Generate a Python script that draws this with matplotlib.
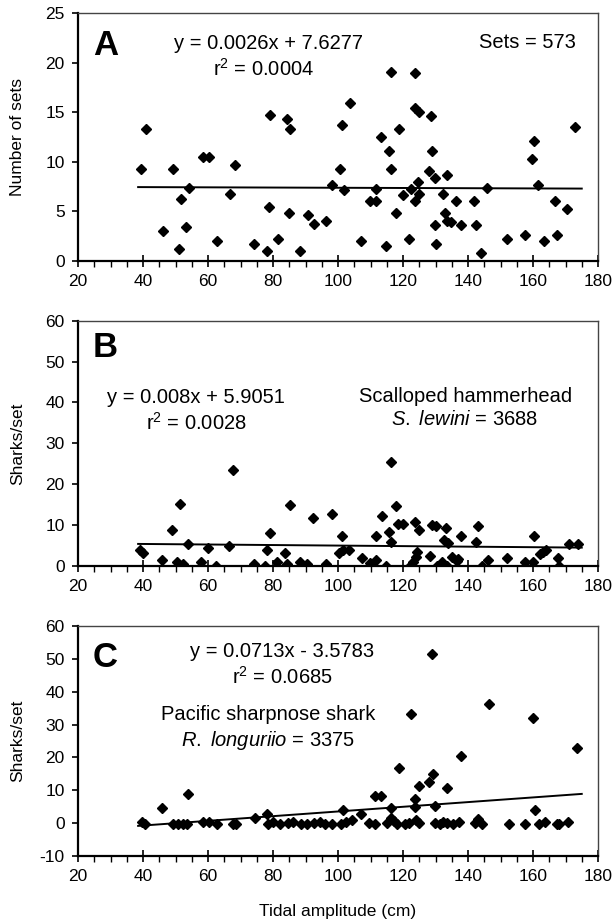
import matplotlib
matplotlib.use("Agg")
import matplotlib.pyplot as plt
import numpy as np
from matplotlib.ticker import MultipleLocator

plt.rcParams['font.family'] = ['Liberation Sans', 'DejaVu Sans']
plt.rcParams['axes.unicode_minus'] = False
plt.rcParams['mathtext.fontset'] = 'custom'
plt.rcParams['mathtext.rm'] = 'Liberation Sans'
plt.rcParams['mathtext.it'] = 'Liberation Sans:italic'
plt.rcParams['mathtext.bf'] = 'Liberation Sans:bold'

# ---------------- Panel A: Number of sets ----------------
xA = [39.4, 40.8, 46.3, 49.3, 51.1, 51.8, 53.1, 54.1, 58.5, 60.4,
      62.8, 66.9, 68.2, 74.3, 78.2, 78.7, 79.2, 81.6, 84.2, 84.8,
      85.3, 88.4, 90.7, 92.7, 96.3, 98.3, 100.6, 101.2, 101.8, 103.7,
      107.2, 109.7, 111.7, 111.8, 113.3, 114.8, 115.8, 116.4, 116.4, 117.8,
      118.8, 120.1, 121.7, 122.5, 123.6, 123.6, 123.6, 124.5, 124.8, 124.9,
      128.6, 128.8, 128.0, 129.9, 129.8, 130.3, 132.4, 133.4, 133.0, 133.4,
      134.7, 136.4, 137.8, 141.8, 142.5, 143.9, 145.9, 151.9, 157.4, 159.6,
      160.3, 161.5, 163.5, 166.9, 167.5, 170.6, 173.0]
yA = [9.25, 13.3, 3.0, 9.25, 1.2, 6.2, 3.4, 7.4, 10.5, 10.5,
      2.0, 6.8, 9.7, 1.75, 1.0, 5.4, 14.7, 2.2, 14.3, 4.8,
      13.3, 1.0, 4.6, 3.7, 4.0, 7.7, 9.25, 13.7, 7.2, 15.9,
      2.0, 6.0, 6.0, 7.3, 12.5, 1.55, 11.1, 19.1, 9.25, 4.8,
      13.3, 6.7, 2.2, 7.3, 6.0, 19.0, 15.4, 8.0, 15.0, 6.8,
      14.6, 11.1, 9.1, 8.4, 3.6, 1.75, 6.8, 8.7, 4.8, 4.0,
      3.9, 6.0, 3.6, 6.0, 3.6, 0.8, 7.4, 2.2, 2.6, 10.3,
      12.1, 7.7, 2.0, 6.0, 2.6, 5.25, 13.5]
trendA_y = [7.45, 7.3]   # trend line as drawn in the figure (ends)

# ---------------- Panel B: Scalloped hammerhead ----------------
xB = [39.1, 40.1, 45.8, 48.8, 50.6, 51.4, 52.4, 53.7, 57.8, 59.9,
      62.5, 66.6, 67.8, 74.2, 77.5, 78.2, 79.1, 81.1, 83.7, 84.4,
      85.2, 88.3, 90.4, 92.4, 96.3, 98.1, 100.4, 101.1, 101.6, 103.5,
      107.3, 109.8, 111.7, 111.7, 113.4, 114.8, 115.8, 116.3, 117.7, 118.6,
      120.1, 122.0, 123.2, 123.7, 124.0, 124.4, 125.0, 128.3, 128.8, 130.2,
      130.6, 131.9, 132.6, 133.1, 133.4, 133.9, 135.0, 136.5, 136.8, 137.8,
      142.4, 143.0, 144.2, 146.1, 152.1, 157.5, 160.1, 160.4, 162.2, 163.2,
      163.9, 167.6, 168.1, 171.1, 173.8, 116.4]
yB = [3.9, 3.3, 1.5, 8.8, 1.0, 15.2, 0.6, 5.4, 1.0, 4.3,
      0.0, 4.9, 23.5, 0.6, 0.0, 3.9, 8.0, 1.1, 3.1, 0.6,
      14.9, 1.1, 0.4, 11.7, 0.5, 12.7, 3.1, 7.3, 3.9, 3.8,
      1.9, 0.65, 1.5, 7.3, 12.2, 0.0, 8.4, 5.9, 14.7, 10.3,
      10.3, 0.0, 1.1, 10.8, 2.3, 3.5, 8.8, 2.4, 10.0, 9.8,
      0.0, 1.1, 6.4, 9.4, 0.0, 5.7, 2.3, 1.3, 1.6, 7.3,
      5.9, 9.8, 0.0, 1.5, 1.9, 1.1, 1.1, 7.3, 2.9, 3.5,
      3.9, 1.9, 0.0, 5.4, 5.4, 25.5]
trendB_y = [5.4, 4.5]

# ---------------- Panel C: Pacific sharpnose shark ----------------
xC = [39.6, 40.6, 45.8, 49.3, 50.9, 52.2, 53.4, 53.7, 58.6, 60.4,
      62.9, 67.8, 68.6, 74.5, 78.1, 78.6, 80.1, 82.2, 84.7, 86.3,
      88.5, 90.5, 92.5, 94.5, 96.0, 98.1, 100.8, 101.6, 102.5, 104.2,
      107.1, 109.6, 111.4, 111.5, 113.3, 115.0, 116.3, 116.3, 117.2, 118.3,
      118.8, 120.6, 121.9, 122.5, 123.7, 123.7, 123.9, 125.0, 124.9, 128.0,
      128.8, 129.3, 129.8, 129.8, 131.4, 132.4, 133.4, 133.4, 135.3, 137.3,
      137.9, 142.2, 143.2, 144.2, 146.5, 152.6, 157.5, 159.9, 160.6, 161.8,
      163.7, 167.3, 168.0, 170.9, 173.4]
yC = [0.4, -0.3, 4.5, -0.2, -0.2, -0.2, -0.2, 8.9, 0.3, 0.3,
      -0.2, -0.3, -0.3, 1.5, 2.8, -0.2, 0.2, -0.2, 0.0, 0.3,
      -0.2, -0.2, 0.0, 0.2, -0.2, -0.3, -0.2, 4.0, 0.2, 0.9,
      2.8, 0.0, -0.2, 8.3, 8.3, 0.0, 1.5, 4.6, 0.7, -0.2,
      16.7, -0.2, 0.0, 33.2, 7.2, 5.0, 1.0, 0.0, 11.3, 12.4,
      51.5, 14.9, 5.3, 0.0, -0.2, 0.3, 0.0, 10.7, -0.2, 0.2,
      20.4, 0.0, 1.2, -0.2, 36.2, -0.2, -0.2, 32.0, 4.0, -0.2,
      0.2, -0.2, -0.2, 0.3, 22.9]
trendC_y = [0.0713 * 38.5 - 3.5783, 0.0713 * 175.0 - 3.5783]

trend_x = [38.5, 175.0]

W, H = 613, 923
fig = plt.figure(figsize=(W / 100, H / 100), dpi=100)

def ax_rect(top_px, bottom_px, left_px=78, right_px=598):
    return [left_px / W, 1 - bottom_px / H, (right_px - left_px) / W, (bottom_px - top_px) / H]

axA = fig.add_axes(ax_rect(13, 261))
axB = fig.add_axes(ax_rect(320.7, 566))
axC = fig.add_axes(ax_rect(626, 856))

panels = [
    (axA, xA, yA, trendA_y, (0, 25), 5, "Number of sets", "A", 0.831),
    (axB, xB, yB, trendB_y, (0, 60), 10, "Sharks/set", "B", 0.852),
    (axC, xC, yC, trendC_y, (-10, 60), 10, "Sharks/set", "C", 0.822),
]

for ax, xs, ys, ty, ylim, ystep, ylabel, letter, ly in panels:
    ax.plot(xs, ys, linestyle='none', marker='D', markersize=5.4,
            color='black', zorder=3)
    ax.plot(trend_x, ty, color='black', linewidth=1.4, zorder=2)
    ax.set_xlim(20, 180)
    ax.set_ylim(*ylim)
    ax.xaxis.set_major_locator(MultipleLocator(20))
    ax.xaxis.set_minor_locator(MultipleLocator(5))
    ax.yaxis.set_major_locator(MultipleLocator(ystep))
    ax.tick_params(axis='x', which='major', direction='inout', length=9,
                   width=1.2, labelsize=12.5, pad=5)
    ax.tick_params(axis='x', which='minor', direction='out', length=4.5, width=1.0)
    ax.tick_params(axis='y', which='major', direction='out', length=4.5,
                   width=1.2, labelsize=12.5, pad=5)
    for s in ('left', 'bottom'):
        ax.spines[s].set_linewidth(1.6)
        ax.spines[s].set_color('black')
    for s in ('top', 'right'):
        ax.spines[s].set_linewidth(1.0)
        ax.spines[s].set_color('#444444')
    ax.set_ylabel(ylabel, fontsize=12.5)
    ax.yaxis.set_label_coords(-0.102, 0.5)
    ax.text(0.029, ly, letter, transform=ax.transAxes, fontsize=25,
            fontweight='bold', ha='left', va='baseline')

fs = 14.5
axA.text(78.5, 0.879, "y = 0.0026x + 7.6277", transform=axA.get_xaxis_transform(),
         fontsize=fs, ha='center', va='center')
axA.text(77.2, 0.774, "r$^2$ = 0.0004", transform=axA.get_xaxis_transform(),
         fontsize=fs, ha='center', va='center')
axA.text(158.2, 0.883, "Sets = 573", transform=axA.get_xaxis_transform(),
         fontsize=fs, ha='center', va='center')

axB.text(56.3, 0.685, "y = 0.008x + 5.9051", transform=axB.get_xaxis_transform(),
         fontsize=fs, ha='center', va='center')
axB.text(56.6, 0.583, "r$^2$ = 0.0028", transform=axB.get_xaxis_transform(),
         fontsize=fs, ha='center', va='center')
axB.text(139.1, 0.693, "Scalloped hammerhead", transform=axB.get_xaxis_transform(),
         fontsize=fs, ha='center', va='center')
axB.text(139.1, 0.599, r"$\mathit{S.}$ $\mathit{lewini}$ = 3688", transform=axB.get_xaxis_transform(),
         fontsize=fs, ha='center', va='center')

axC.text(82.8, 0.887, "y = 0.0713x - 3.5783", transform=axC.get_xaxis_transform(),
         fontsize=fs, ha='center', va='center')
axC.text(82.8, 0.778, "r$^2$ = 0.0685", transform=axC.get_xaxis_transform(),
         fontsize=fs, ha='center', va='center')
axC.text(78.5, 0.617, "Pacific sharpnose shark", transform=axC.get_xaxis_transform(),
         fontsize=fs, ha='center', va='center')
axC.text(78.5, 0.504, r"$\mathit{R.}$ $\mathit{longuriio}$ = 3375", transform=axC.get_xaxis_transform(),
         fontsize=fs, ha='center', va='center')

axC.set_xlabel("Tidal amplitude (cm)", fontsize=12.5, labelpad=14)

fig.savefig("out.png", dpi=100)
